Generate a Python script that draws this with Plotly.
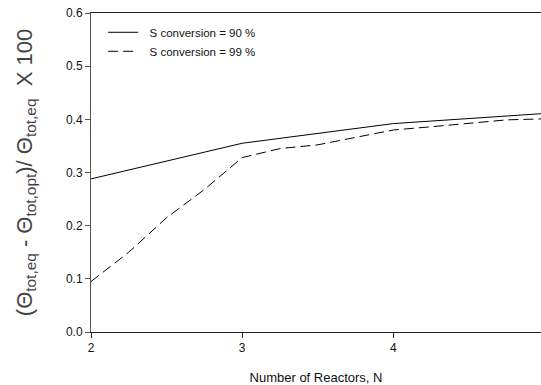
import plotly.graph_objects as go

# Data
n_90 = [2, 3, 4, 5]
dev_90 = [0.288, 0.355, 0.392, 0.411]

n_99 = [2, 2.25, 2.5, 2.75, 3, 3.25, 3.5, 3.75, 4, 4.25, 4.5, 4.75, 5]
dev_99 = [0.095, 0.150, 0.215, 0.268, 0.328, 0.345, 0.352, 0.366, 0.380, 0.386, 0.392, 0.399, 0.401]

x_ticks = [2, 3, 4]
y_ticks = [0.0, 0.1, 0.2, 0.3, 0.4, 0.5, 0.6]

font_family = "Liberation Sans, Arial, sans-serif"
pad = "\u00a0\u00a0"

fig = go.Figure()
fig.add_trace(go.Scatter(x=n_90, y=dev_90, mode="lines", name=pad + "S conversion = 90 %",
                         line=dict(color="black", width=1)))
fig.add_trace(go.Scatter(x=n_99, y=dev_99, mode="lines", name=pad + "S conversion = 99 %",
                         line=dict(color="black", width=1, dash="10px,5px")))

fig.update_layout(
    width=541, height=385,
    margin=dict(l=91, r=0, t=13, b=53),
    paper_bgcolor="white", plot_bgcolor="white",
    font=dict(family=font_family, size=11, color="#111"),
    showlegend=True,
    legend=dict(x=0.027, y=0.985, xanchor="left", yanchor="top",
                bgcolor="rgba(0,0,0,0)", borderwidth=0,
                font=dict(size=11.5), tracegroupgap=0),
    xaxis=dict(range=[2, 4.977], tickvals=x_ticks, ticktext=[str(v) for v in x_ticks],
               showgrid=False, zeroline=False, showline=True, linecolor="#222", linewidth=1,
               mirror=True, ticks="outside", ticklen=5, tickcolor="#222",
               tickfont=dict(size=12),
               title=dict(text="Number of Reactors, N", font=dict(size=13), standoff=18)),
    yaxis=dict(range=[0, 0.6], tickvals=y_ticks, tickformat=".1f",
               showgrid=False, zeroline=False, showline=True, linecolor="#555", linewidth=1,
               ticks="outside", ticklen=5, tickcolor="#555",
               tickfont=dict(size=12),
               title=dict(text="(Θ<sub>tot,eq</sub> - Θ<sub>tot,opt</sub>)/ Θ<sub>tot,eq</sub>  X 100",
                          font=dict(size=22, color="#444"), standoff=27)),
)

fig.write_html("out.html")
